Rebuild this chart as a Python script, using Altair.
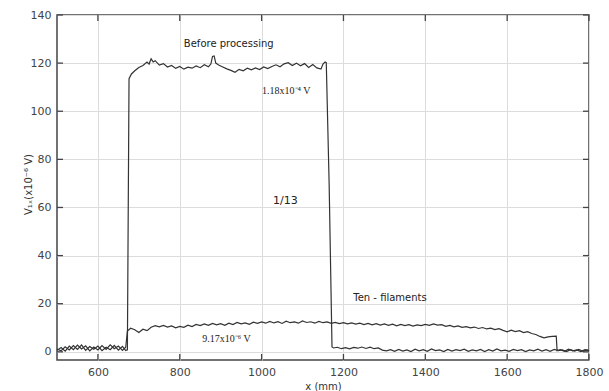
import altair as alt
import pandas as pd

# ---- Data ----
before_x = [500, 510, 520, 530, 540, 550, 560, 570, 580, 590,
            600, 610, 620, 630, 640, 650, 660, 668, 672, 676,
            682, 690, 700, 710, 720, 725, 730, 735, 740, 750,
            760, 770, 780, 790, 800, 810, 820, 830, 840, 850,
            860, 870, 876, 880, 884, 888, 895, 905, 915, 925,
            935, 945, 955, 965, 975, 985, 995, 1005, 1015, 1025,
            1035, 1045, 1055, 1065, 1075, 1085, 1095, 1105, 1115, 1125,
            1135, 1145, 1150, 1155, 1158, 1165, 1172, 1176, 1185, 1195,
            1205, 1215, 1225, 1235, 1245, 1255, 1265, 1275, 1285, 1295,
            1305, 1315, 1325, 1335, 1345, 1355, 1365, 1375, 1385, 1395,
            1405, 1415, 1425, 1435, 1445, 1455, 1465, 1475, 1485, 1495,
            1505, 1515, 1525, 1535, 1545, 1555, 1565, 1575, 1585, 1595,
            1605, 1615, 1625, 1635, 1645, 1655, 1665, 1675, 1685, 1695,
            1705, 1715, 1725, 1735, 1745, 1755, 1765, 1775, 1785, 1795,
            1800]
before_y = [1.2, 0.4, 2.1, 0.8, 2.6, 1.0, 2.9, 0.6, 2.2, 1.1,
            2.4, 0.5, 1.9, 0.9, 2.7, 0.7, 2.3, 0.5, 0.8, 113.5,
            115.5, 116.8, 118.2, 119.0, 120.4, 119.6, 121.8, 120.5, 121.0, 119.2,
            119.8, 118.4, 119.0, 117.8, 118.6, 117.5, 118.3, 117.9, 118.8, 118.1,
            119.3, 118.5, 119.6, 122.8, 123.0, 120.0, 119.2, 118.4, 117.6, 117.0,
            116.2, 117.4, 116.8, 117.9, 117.2, 118.0, 117.3, 118.4, 117.7, 118.6,
            119.3, 118.5, 119.7, 120.2, 119.0, 120.0, 118.9, 119.8, 118.2, 119.4,
            118.0, 117.5, 119.6, 120.5, 120.2, 70.0, 2.0, 1.6, 1.9, 1.3,
            1.7, 1.2, 1.8, 1.5, 2.0, 1.4, 1.9, 1.3, 1.6, 0.7,
            0.4, 0.9, 0.2, 1.0, 0.3, 0.8, 0.1, 1.1, 0.4, 0.9,
            0.2, 1.2, 0.5, 0.8, 0.1, 1.0, 0.3, 0.9, 0.5, 1.1,
            0.2, 0.8, 0.4, 1.0, 0.1, 0.9, 0.3, 1.2, 0.4, 0.7,
            0.2, 1.0, 0.5, 0.9, 0.1, 0.8, 0.4, 1.1, 0.3, 0.9,
            0.2, 1.0, 0.5, 0.8, 0.1, 0.9, 0.3, 1.0, 0.2, 0.8,
            0.4]

ten_x = [500, 510, 520, 530, 540, 550, 560, 570, 580, 590,
         600, 610, 620, 630, 640, 650, 660, 668, 672, 680,
         690, 700, 710, 720, 730, 740, 750, 760, 770, 780,
         790, 800, 810, 820, 830, 840, 850, 860, 870, 880,
         890, 900, 910, 920, 930, 940, 950, 960, 970, 980,
         990, 1000, 1010, 1020, 1030, 1040, 1050, 1060, 1070, 1080,
         1090, 1100, 1110, 1120, 1130, 1140, 1150, 1160, 1170, 1180,
         1190, 1200, 1210, 1220, 1230, 1240, 1250, 1260, 1270, 1280,
         1290, 1300, 1310, 1320, 1330, 1340, 1350, 1360, 1370, 1380,
         1390, 1400, 1410, 1420, 1430, 1440, 1450, 1460, 1470, 1480,
         1490, 1500, 1510, 1520, 1530, 1540, 1550, 1560, 1570, 1580,
         1590, 1600, 1610, 1620, 1630, 1640, 1650, 1660, 1670, 1680,
         1690, 1700, 1710, 1720, 1722, 1730, 1740, 1750, 1760, 1770,
         1780, 1790, 1800]
ten_y = [0.6, 1.8, 0.3, 2.4, 0.9, 2.8, 1.2, 2.5, 0.4, 2.0,
         0.8, 2.6, 1.0, 2.9, 1.3, 2.4, 0.6, 1.9, 8.6, 9.8,
         9.2, 8.0, 9.4, 8.8, 10.2, 10.9, 10.4, 11.0, 10.3, 10.8,
         10.0, 10.6, 10.2, 11.1, 10.5, 11.4, 10.9, 11.6, 11.0, 11.8,
         11.2, 11.7, 11.0, 11.9, 11.3, 12.2, 11.6, 12.0, 11.4, 12.3,
         11.8, 12.4, 11.9, 12.6, 12.0, 12.5, 11.8, 12.7, 12.1, 12.4,
         11.9, 12.8, 12.2, 12.5, 11.9, 12.6, 12.1, 12.4, 11.8, 12.2,
         11.7, 12.1, 11.6, 12.0, 11.5, 11.9, 11.3, 11.8, 11.2, 11.7,
         11.1, 11.6, 11.0, 11.5, 10.8, 11.4, 10.9, 11.3, 10.7, 11.2,
         10.9, 11.4, 11.0, 11.6, 11.1, 11.3, 10.6, 11.0, 10.4, 10.8,
         10.2, 10.5, 10.0, 10.3, 9.7, 10.1, 9.5, 9.8, 9.2, 9.6,
         8.9, 8.3, 9.0, 8.4, 8.8, 8.0, 8.4, 7.6, 7.2, 6.4,
         5.8, 6.2, 6.4, 6.5, 0.5, 0.9, 0.2, 1.1, 0.4, 0.8,
         0.1, 0.9, 0.5]

x_ticks = [600, 800, 1000, 1200, 1400, 1600, 1800]
y_ticks = [0, 20, 40, 60, 80, 100, 120, 140]

ann_text = ["Before processing", "1/13", "Ten - filaments"]
ann_x = [810, 1028, 1224]
ann_y = [128, 62.8, 22.4]
ann_size = [10, 11, 10]

val_text = ["1.18x10\u207b\u2074 V", "9.17x10\u207b\u2076 V"]
val_x = [1001, 855]
val_y = [108.5, 5.4]

W, H = 532, 345
XD = [500, 1800]
YD = [-3.4, 140]

lines = pd.concat([
    pd.DataFrame({"x": before_x, "y": before_y, "s": "before"}),
    pd.DataFrame({"x": ten_x, "y": ten_y, "s": "ten"}),
])

xs = alt.Scale(domain=XD, nice=False, zero=False)
ys = alt.Scale(domain=YD, nice=False, zero=False)

base_axis = dict(labelFont="DejaVu Sans", labelFontSize=11, labelColor="#444",
                 gridColor="#dcdcdc", gridWidth=1, domain=False, ticks=False, labelPadding=6,
                 labelFlush=False,
                 titleFont="DejaVu Sans", titleFontSize=10, titleFontWeight="normal",
                 titleColor="#333")

grid = alt.Chart(pd.DataFrame({"x": [XD[0]], "y": [0]})).mark_point(opacity=0).encode(
    x=alt.X("x:Q", scale=xs, axis=alt.Axis(values=x_ticks, format="d", title="x (mm)",
                                          titleX=W / 2, titleY=26, titleBaseline="middle",
                                          **base_axis)),
    y=alt.Y("y:Q", scale=ys, axis=alt.Axis(values=y_ticks, format="d",
                                          title="V\u2081\u2093(x10\u207b\u2076 V)",
                                          titleX=-29, titleY=169, titleBaseline="middle",
                                          titleAngle=-90, titleAlign="center",
                                          **base_axis)),
)

line = alt.Chart(lines).mark_line(color="#333", strokeWidth=1.2).encode(
    x=alt.X("x:Q", scale=xs), y=alt.Y("y:Q", scale=ys), detail="s:N")

tick_len = 6
xt = pd.DataFrame({"v": x_ticks})
yt = pd.DataFrame({"v": y_ticks})
tb = alt.Chart(xt).mark_rule(color="#444", strokeWidth=1.3).encode(
    x=alt.X("v:Q", scale=xs), y=alt.value(H), y2=alt.value(H - tick_len))
tt = alt.Chart(xt).mark_rule(color="#444", strokeWidth=1.3).encode(
    x=alt.X("v:Q", scale=xs), y=alt.value(0), y2=alt.value(tick_len))
tl = alt.Chart(yt).mark_rule(color="#444", strokeWidth=1.3).encode(
    y=alt.Y("v:Q", scale=ys), x=alt.value(0), x2=alt.value(tick_len))
tr = alt.Chart(yt).mark_rule(color="#444", strokeWidth=1.3).encode(
    y=alt.Y("v:Q", scale=ys), x=alt.value(W), x2=alt.value(W - tick_len))

ann = alt.Chart(pd.DataFrame({"t": ann_text, "x": ann_x, "y": ann_y, "s": ann_size})).mark_text(
    align="left", baseline="middle", font="DejaVu Sans", color="#222").encode(
    x=alt.X("x:Q", scale=xs), y=alt.Y("y:Q", scale=ys), text="t:N",
    size=alt.Size("s:Q", scale=None, legend=None))

vals = alt.Chart(pd.DataFrame({"t": val_text, "x": val_x, "y": val_y})).mark_text(
    align="left", baseline="middle", font="Liberation Serif", fontSize=10, color="#222").encode(
    x=alt.X("x:Q", scale=xs), y=alt.Y("y:Q", scale=ys), text="t:N")

chart = alt.layer(grid, line, tb, tt, tl, tr, ann, vals).properties(
    width=W, height=H,
    background="white",
    autosize=alt.AutoSizeParams(type="none"),
    padding={"left": 57, "top": 15, "right": 20, "bottom": 31},
).configure_view(stroke="#444", strokeWidth=1.5)

chart.save("out.html", embed_options={"renderer": "svg", "actions": False})
